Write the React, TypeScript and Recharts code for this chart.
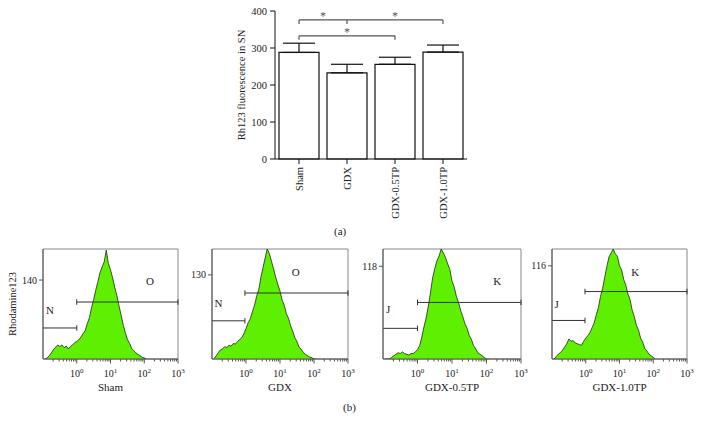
import React from 'react'
import {
  BarChart,
  Bar,
  XAxis,
  YAxis,
  ErrorBar,
  ReferenceLine,
  AreaChart,
  Area,
  ReferenceArea,
  ReferenceDot
} from 'recharts'

const FONT = '"Liberation Serif", "DejaVu Serif", serif'
const INK = '#222'

// (a) Rh123 fluorescence in SN
const groups = ['Sham', 'GDX', 'GDX-0.5TP', 'GDX-1.0TP']
const rh123 = [288, 233, 256, 289]
const rh123Sem = [25, 23, 19, 19]
const barTicks = [0, 100, 200, 300, 400]

// significance brackets: segment from -> to at level, star on segment
const brackets = [
  { from: 'Sham', to: 'GDX', level: 376, star: true },
  { from: 'GDX', to: 'GDX-1.0TP', level: 376, star: true },
  { from: 'Sham', to: 'GDX-0.5TP', level: 333, star: true }
]
const bracketDrops = [
  { at: 'Sham', level: 376 },
  { at: 'GDX', level: 376 },
  { at: 'GDX-1.0TP', level: 376 },
  { at: 'Sham', level: 333 },
  { at: 'GDX-0.5TP', level: 333 }
]

// (b) Rhodamine123 histograms, log channel bins
const binX = [
  0.1155, 0.1334, 0.154, 0.1778, 0.2054, 0.2371, 0.2738, 0.3162, 0.3652, 0.4217,
  0.487, 0.5623, 0.6494, 0.7499, 0.866, 1, 1.155, 1.334, 1.54, 1.778, 2.054,
  2.371, 2.738, 3.162, 3.652, 4.217, 4.87, 5.623, 6.494, 7.499, 8.66, 10, 11.55,
  13.34, 15.4, 17.78, 20.54, 23.71, 27.38, 31.62, 36.52, 42.17, 48.7, 56.23,
  64.94, 74.99, 86.6, 100, 115.5
]
const shamCounts = [
  0, 2, 6, 11, 17, 21, 25, 22, 25, 20, 23, 18, 22, 25, 29,
  31, 34, 39, 45, 50, 63, 73, 91, 105, 122, 137, 153, 163, 172, 193, 169,
  158, 144, 127, 113, 95, 78, 61, 47, 35, 28, 19, 15, 11, 8, 6, 3, 2, 0
]
const gdxCounts = [
  1, 5, 10, 14, 16, 19, 18, 21, 20, 24, 23, 27, 30, 33, 39,
  47, 56, 62, 73, 83, 97, 107, 126, 141, 156, 170, 163, 151, 139, 126, 115,
  105, 91, 83, 70, 63, 51, 43, 33, 27, 18, 15, 10, 7, 5, 3, 2, 0, 0
]
const tp05Counts = [
  0, 0, 0, 2, 4, 6, 8, 7, 9, 7, 6, 5, 7, 7, 9,
  12, 17, 28, 41, 52, 67, 84, 103, 115, 125, 131, 140, 135, 129, 121, 114,
  99, 92, 80, 72, 62, 54, 45, 39, 30, 25, 17, 13, 8, 6, 4, 2, 0, 0
]
const tp10Counts = [
  0, 3, 6, 8, 11, 15, 19, 25, 22, 23, 20, 19, 18, 17, 22,
  26, 29, 33, 39, 45, 55, 64, 78, 88, 102, 115, 127, 132, 137, 131, 128,
  116, 111, 99, 92, 81, 74, 61, 53, 42, 36, 26, 21, 13, 10, 6, 4, 2, 0
]
const histCounts = [shamCounts, gdxCounts, tp05Counts, tp10Counts]
const histYTop = [195, 170, 140, 137]
const histYTick = [140, 130, 118, 116]

// gates: left gate (to split) and right gate (from split), with letters
const gateSplit = [1, 0.93, 1, 0.95]
const gateLowLevel = [55, 59, 39, 48]
const gateHighLevel = [101, 102, 72, 84]
const gateNames = [['N', 'O'], ['N', 'O'], ['J', 'K'], ['J', 'K']]
const gateLowLabel = [[0.16, 87], [0.155, 87], [0.142, 63], [0.138, 69]]
const gateHighLabel = [[148, 138], [29, 134], [205, 99], [29, 108]]

const majorTicks = [1, 10, 100, 1000]
const logTicks = [
  0.2, 0.3, 0.4, 0.5, 0.6, 0.7, 0.8, 0.9, 1, 2, 3, 4, 5, 6, 7, 8, 9, 10,
  20, 30, 40, 50, 60, 70, 80, 90, 100, 200, 300, 400, 500, 600, 700, 800, 900, 1000
]

const HIST_LEFT = [43, 212, 383, 552]
const HIST_W = [135, 136, 138, 135]

const barData = groups.map((g, i) => ({ name: g, value: rh123[i], sem: [0, rh123Sem[i]] }))

const SideTitle = (props: any) => {
  const { viewBox, text, dx } = props
  const cx = viewBox.x + dx
  const cy = viewBox.y + viewBox.height / 2
  return (
    <text
      x={cx}
      y={cy}
      transform={`rotate(-90 ${cx} ${cy})`}
      textAnchor='middle'
      dominantBaseline='central'
      fontSize={10.5}
      fontFamily={FONT}
      fill={INK}
    >
      {text}
    </text>
  )
}

const RotTick = (props: any) => {
  const { x, y, payload } = props
  return (
    <text
      x={x}
      y={y}
      transform={`rotate(-90 ${x} ${y})`}
      textAnchor='end'
      dominantBaseline='central'
      fontSize={10.5}
      fontFamily={FONT}
      fill={INK}
    >
      {payload.value}
    </text>
  )
}

const LogTick = (props: any) => {
  const { x, y, payload } = props
  const exp = majorTicks.indexOf(payload.value)
  if (exp < 0) return <line x1={x} x2={x} y1={y} y2={y + 2.5} stroke='#555' />
  return (
    <g>
      <line x1={x} x2={x} y1={y} y2={y + 4.5} stroke='#555' />
      <text x={x} y={y + 18} textAnchor='middle' fontSize={10} fontFamily={FONT} fill={INK}>
        10<tspan dy={-4} fontSize={7}>{exp}</tspan>
      </text>
    </g>
  )
}

function Histogram({ i }: { i: number }) {
  const data = binX.map((x, k) => ({ x, n: histCounts[i][k] }))
  const top = histYTop[i]
  const split = gateSplit[i]
  const lo = gateLowLevel[i]
  const hi = gateHighLevel[i]
  const cap = top * 0.025
  return (
    <div style={{ position: 'absolute', left: HIST_LEFT[i] - 40, top: 240 }}>
      <AreaChart
        width={40 + HIST_W[i] + 8}
        height={159}
        data={data}
        margin={{ top: 9, right: 8, bottom: 0, left: 0 }}
      >
        <XAxis
          dataKey='x'
          type='number'
          scale='log'
          domain={[0.1, 1000]}
          allowDataOverflow
          ticks={logTicks}
          interval={0}
          tick={<LogTick />}
          tickLine={false}
          tickSize={0}
          tickMargin={0}
          height={40}
          axisLine={{ stroke: '#555' }}
          label={{
            value: groups[i],
            position: 'insideBottom',
            offset: 8,
            fontSize: 11,
            fontFamily: FONT,
            fill: INK
          }}
        />
        <YAxis
          type='number'
          domain={[0, top]}
          allowDataOverflow
          ticks={[histYTick[i]]}
          width={40}
          tickSize={4}
          tickMargin={2}
          axisLine={{ stroke: '#555' }}
          tickLine={{ stroke: '#555' }}
          tick={{ fontSize: 10, fontFamily: FONT, fill: INK }}
          label={i === 0 ? <SideTitle text='Rhodamine123' dx={9} /> : undefined}
        />
        <ReferenceArea x1={0.1} x2={1000} y1={0} y2={top} fill='none' stroke='#888' strokeWidth={1} />
        <Area
          type='linear'
          dataKey='n'
          fill='#5ef000'
          fillOpacity={1}
          stroke='#1f2a12'
          strokeWidth={0.8}
          isAnimationActive={false}
        />
        <ReferenceLine segment={[{ x: 0.1, y: lo }, { x: split, y: lo }]} stroke='#333' />
        <ReferenceLine segment={[{ x: split, y: lo - cap }, { x: split, y: lo + cap }]} stroke='#333' />
        <ReferenceLine segment={[{ x: split, y: hi }, { x: 1000, y: hi }]} stroke='#333' />
        <ReferenceLine segment={[{ x: split, y: hi - cap }, { x: split, y: hi + cap }]} stroke='#333' />
        <ReferenceLine segment={[{ x: 1000, y: hi - cap }, { x: 1000, y: hi + cap }]} stroke='#333' />
        <ReferenceDot
          x={gateLowLabel[i][0]}
          y={gateLowLabel[i][1]}
          r={0}
          fill='none'
          stroke='none'
          label={{ value: gateNames[i][0], position: 'center', fontSize: 11, fontFamily: FONT, fill: INK }}
        />
        <ReferenceDot
          x={gateHighLabel[i][0]}
          y={gateHighLabel[i][1]}
          r={0}
          fill='none'
          stroke='none'
          label={{ value: gateNames[i][1], position: 'center', fontSize: 11, fontFamily: FONT, fill: INK }}
        />
      </AreaChart>
    </div>
  )
}

export default function App() {
  return (
    <div
      style={{
        position: 'absolute',
        left: 0,
        top: 0,
        width: 702,
        height: 430,
        background: '#fff',
        fontFamily: FONT,
        color: INK,
        overflow: 'hidden'
      }}
    >
      <div style={{ position: 'absolute', left: 215, top: 0 }}>
        <BarChart width={260} height={230} data={barData} margin={{ top: 11, right: 8, bottom: 6, left: 20 }}>
          <XAxis
            dataKey='name'
            type='category'
            height={65}
            interval={0}
            tick={<RotTick />}
            tickSize={5}
            tickMargin={3}
            axisLine={{ stroke: '#111' }}
            tickLine={{ stroke: '#111' }}
          />
          <YAxis
            type='number'
            domain={[0, 400]}
            ticks={barTicks}
            width={40}
            tickSize={5}
            tickMargin={3}
            axisLine={{ stroke: '#111' }}
            tickLine={{ stroke: '#111' }}
            tick={{ fontSize: 10.5, fontFamily: FONT, fill: INK }}
            label={<SideTitle text='Rh123 fluorescence in SN' dx={6} />}
          />
          <Bar dataKey='value' barSize={40} fill='#fff' stroke='#111' strokeWidth={1.2} isAnimationActive={false}>
            <ErrorBar dataKey='sem' width={16} stroke='#111' strokeWidth={1.2} />
          </Bar>
          {brackets.map((b, k) => (
            <ReferenceLine
              key={`br-${k}`}
              segment={[{ x: b.from, y: b.level }, { x: b.to, y: b.level }]}
              stroke='#555'
              strokeWidth={1.2}
              label={b.star ? { value: '*', position: 'top', offset: 0, fontSize: 12, fontFamily: FONT, fill: '#555' } : undefined}
            />
          ))}
          {bracketDrops.map((d, k) => (
            <ReferenceLine
              key={`drop-${k}`}
              segment={[{ x: d.at, y: d.level }, { x: d.at, y: d.level - 11 }]}
              stroke='#555'
              strokeWidth={1.2}
            />
          ))}
        </BarChart>
      </div>
      <div style={{ position: 'absolute', left: 334, top: 224, fontSize: 11, lineHeight: '14px' }}>(a)</div>
      {groups.map((_, i) => (
        <Histogram key={i} i={i} />
      ))}
      <div style={{ position: 'absolute', left: 343, top: 400, fontSize: 11, lineHeight: '14px' }}>(b)</div>
    </div>
  )
}
